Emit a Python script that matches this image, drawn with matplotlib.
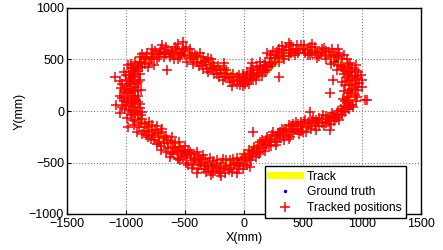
import numpy as np
import matplotlib.pyplot as plt

plt.rcParams['font.family'] = ['Liberation Sans', 'DejaVu Sans']

# track (closed heart loop)
track_x = [-950, -880, -780, -640, -500, -380, -260, -140, -40, 40, 120, 220, 320, 440, 560, 680, 800, 880, 910, 900, 860,
           780, 680, 560, 450, 350, 250, 150, 60, 0, -100, -200, -320, -400, -480, -600, -680, -760, -880, -930, -955, -965, -960, -950]
track_y = [380, 480, 540, 560, 550, 510, 450, 370, 300, 290, 350, 430, 520, 580, 590, 560, 480, 360, 220, 120, 30,
           -40, -90, -130, -160, -200, -250, -320, -390, -450, -500, -530, -510, -470, -420, -330, -270, -210, -100, -30, 60, 150, 250, 380]

# ground truth samples along the track
truth_x = [-930, -910, -890, -960, -955, -940, -900, -700, -520, -330, -150, 0, 120, 230, 330, 380,
           500, 650, 780, 880, 905, 880, 760, 720, 610, 480, 300, 150, -50, -280, -520, -760]
truth_y = [410, 440, 470, 300, 200, 80, -70, 560, 550, 500, 370, 290, 350, 440, 530, 560,
           590, 565, 490, 350, 200, 60, -50, -70, -110, -155, -205, -320, -470, -515, -400, -210]

# tracked positions
tracked = [
    # left side
    (-940, 390), (-975, 350), (-920, 330), (-1000, 300), (-955, 280), (-910, 260), (-990, 240), (-960, 210),
    (-925, 190), (-1010, 180), (-945, 150), (-980, 120), (-915, 110), (-960, 80), (-1000, 60), (-935, 40),
    (-970, 10), (-905, 0), (-1090, 330), (-1080, 60), (-1050, -20),
    (-900, 420), (-960, 420), (-1020, 380), (-880, 360), (-940, 340), (-1030, 260), (-880, 300), (-920, 230),
    (-1040, 220), (-870, 200), (-990, 170), (-900, 150), (-1030, 130), (-940, 100), (-880, 70), (-1010, 20),
    (-950, -10), (-880, 30), (-1020, 100), (-960, 380), (-930, 270), (-980, 450),
    (-1000, 350), (-930, 360), (-965, 320), (-1050, 290), (-900, 280), (-970, 260), (-1020, 200), (-940, 190),
    (-900, 200), (-965, 170), (-1050, 150), (-920, 130), (-990, 90), (-900, 90), (-960, 50), (-1030, 40),
    (-920, -20), (-990, -70), (-860, -10),
    # lower left
    (-960, -40), (-900, -30), (-920, -100), (-860, -80), (-890, -160), (-840, -130), (-800, -200), (-780, -140),
    (-830, -230), (-750, -180), (-720, -250), (-700, -200), (-760, -280), (-660, -240), (-680, -310), (-620, -290),
    (-640, -360), (-580, -310), (-600, -400), (-540, -350), (-560, -420), (-500, -390), (-520, -450), (-470, -380),
    (-450, -460), (-420, -420), (-430, -520), (-380, -450), (-370, -500), (-340, -560), (-330, -470), (-300, -530),
    (-270, -580), (-260, -490), (-230, -550), (-200, -600), (-190, -500), (-170, -560), (-980, -160), (-560, -470),
    (-940, -90), (-870, -40), (-850, -190), (-910, -200), (-800, -110), (-810, -250), (-740, -150), (-770, -230),
    (-720, -300), (-690, -170), (-650, -280), (-700, -340), (-610, -250), (-660, -400), (-580, -360), (-550, -300),
    (-620, -420), (-530, -400), (-500, -340), (-560, -460), (-480, -440), (-460, -400), (-490, -500), (-410, -470),
    (-400, -400), (-440, -550), (-360, -520), (-350, -430), (-390, -560), (-310, -500), (-290, -460), (-320, -590),
    (-250, -540), (-230, -480), (-280, -620), (-210, -580), (-180, -470), (-160, -600), (-150, -530), (-120, -480),
    (-870, -120), (-930, -140), (-820, -160), (-860, -220), (-780, -180), (-790, -270), (-730, -210), (-740, -320),
    (-680, -260), (-700, -380), (-640, -310), (-600, -350), (-630, -450), (-570, -390), (-520, -380), (-540, -480),
    (-500, -430), (-450, -420), (-470, -520), (-420, -480), (-380, -490), (-400, -600), (-360, -470), (-300, -560),
    (-330, -530), (-260, -600), (-240, -520), (-200, -550), (-190, -630), (-130, -570), (-110, -520),
    # bottom to lower right
    (-150, -480), (-120, -550), (-80, -520), (-60, -460), (-30, -500), (0, -420), (20, -480), (40, -380),
    (70, -440), (90, -350), (110, -400), (140, -300), (160, -360), (190, -280), (210, -330), (240, -230),
    (260, -290), (290, -210), (310, -260), (340, -180), (370, -230), (400, -150), (420, -200), (460, -130),
    (480, -190), (510, -110), (540, -160), (580, -100), (600, -150), (640, -70), (660, -120), (700, -50),
    (720, -100), (750, -20), (780, -70), (800, 0), (830, -40), (850, 50), (-40, -560), (80, -200),
    (560, -10), (730, -180), (1040, 110),
    (-100, -590), (-90, -470), (-50, -530), (-10, -560), (10, -450), (30, -520), (50, -420), (60, -480),
    (80, -390), (100, -450), (120, -340), (130, -420), (170, -310), (180, -390), (220, -270), (230, -340),
    (250, -200), (280, -300), (300, -230), (320, -170), (340, -280), (360, -200), (380, -140), (390, -250),
    (430, -170), (440, -110), (470, -220), (490, -150), (520, -90), (530, -200), (560, -130), (590, -70),
    (610, -180), (630, -110), (670, -40), (680, -150), (710, -80), (740, -130), (760, -50), (790, -30),
    (810, -90), (820, 20), (860, -10), (870, 40),
    (-70, -500), (-60, -600), (-20, -470), (0, -520), (40, -460), (50, -540), (70, -400), (110, -370),
    (140, -400), (150, -280), (190, -330), (200, -250), (230, -300), (270, -240), (270, -330), (310, -200),
    (330, -240), (360, -170), (380, -270), (410, -180), (420, -130), (450, -180), (480, -110), (500, -200),
    (540, -120), (570, -170), (610, -90), (640, -150), (660, -80), (700, -120), (730, -60), (760, -100),
    (800, -60), (840, 0), (890, 20),
    # right side
    (880, 80), (920, 60), (870, 140), (940, 160), (890, 200), (950, 230), (860, 250), (920, 290),
    (960, 320), (870, 330), (900, 380), (940, 400), (840, 410), (880, 450), (800, 450), (830, 500),
    (760, 480), (780, 540), (700, 500), (720, 570), (640, 530), (660, 600), (580, 560), (600, 620),
    (540, 590), (1000, 300), (1025, 110), (730, 175), (755, 300), (925, 40),
    (890, 110), (950, 100), (840, 120), (910, 170), (850, 190), (970, 200), (900, 250), (830, 280),
    (980, 270), (890, 310), (940, 340), (850, 360), (920, 420), (860, 390), (970, 380), (820, 440),
    (900, 470), (850, 540), (790, 400), (760, 540), (740, 460), (810, 560), (690, 540), (680, 610),
    (620, 560), (620, 510), (560, 620), (560, 540), (520, 560), (510, 640),
    (900, 60), (860, 100), (960, 140), (880, 170), (920, 210), (1000, 230), (940, 260), (870, 290),
    (920, 340), (990, 350), (880, 360), (910, 390), (850, 430), (950, 450), (870, 500), (800, 520),
    (800, 600), (740, 520), (750, 600), (700, 580), (650, 560), (600, 580), (580, 650), (540, 540),
    # right lobe to dip
    (480, 640), (460, 560), (420, 600), (380, 530), (360, 620), (320, 560), (300, 480), (270, 540),
    (240, 460), (220, 510), (200, 400), (170, 450), (150, 340), (120, 400), (100, 300), (70, 360),
    (40, 260), (20, 320), (-10, 240), (-30, 300), (-60, 330), (-60, 260), (450, 640), (70, 470),
    (300, 330),
    (500, 600), (440, 580), (400, 640), (400, 560), (340, 590), (340, 500), (300, 600), (290, 520),
    (260, 480), (250, 580), (210, 440), (230, 540), (180, 480), (180, 380), (140, 430), (130, 360),
    (110, 440), (90, 340), (60, 300), (80, 400), (30, 290), (50, 350), (0, 330), (10, 260),
    (-20, 280), (-40, 350), (-80, 290), (-90, 360), (-100, 240),
    (470, 600), (430, 540), (380, 590), (380, 660), (320, 630), (330, 530), (280, 570), (260, 510),
    (220, 470), (200, 560), (160, 410), (190, 430), (140, 480), (110, 370), (80, 320), (60, 420),
    (30, 380), (0, 280), (-30, 250), (-10, 360),
    # dip to left lobe
    (-120, 280), (-140, 360), (-170, 420), (-210, 330), (-240, 400), (-260, 470), (-300, 380), (-320, 450),
    (-350, 520), (-380, 440), (-420, 500), (-440, 560), (-480, 480), (-500, 580), (-540, 520), (-570, 600),
    (-600, 540), (-640, 590), (-680, 520), (-710, 570), (-740, 500), (-770, 550), (-800, 470), (-830, 520),
    (-860, 430), (-880, 470), (-900, 390), (-650, 400), (-520, 670),
    (-130, 320), (-150, 400), (-180, 300), (-190, 370), (-220, 440), (-230, 360), (-270, 420), (-280, 500),
    (-310, 410), (-330, 490), (-360, 470), (-370, 560), (-400, 480), (-410, 540), (-450, 510), (-460, 600),
    (-500, 540), (-520, 600), (-550, 560), (-580, 620), (-590, 500), (-620, 560), (-660, 620), (-660, 550),
    (-700, 600), (-720, 520), (-750, 580), (-760, 450), (-790, 500), (-820, 560), (-840, 460), (-850, 500),
    (-880, 520), (-900, 440), (-920, 480), (-940, 420),
    (-60, 300), (-110, 330), (-160, 330), (-170, 470), (-200, 400), (-250, 360), (-250, 440), (-290, 420),
    (-300, 510), (-340, 480), (-350, 410), (-400, 530), (-430, 460), (-460, 530), (-490, 620), (-530, 560),
    (-560, 500), (-560, 650), (-610, 580), (-630, 520), (-680, 570), (-690, 640), (-730, 550), (-780, 520),
    (-780, 600), (-810, 430), (-870, 480), (-860, 550), (-910, 420), (-960, 460),
]
tracked_x = [p[0] for p in tracked]
tracked_y = [p[1] for p in tracked]

fig = plt.figure(figsize=(4.43, 2.5), dpi=100)
ax = fig.add_axes([0.151, 0.144, 0.799, 0.824])

ax.plot(track_x, track_y, color='yellow', lw=5, label='Track', zorder=2)
ax.plot(truth_x, truth_y, '.', color='blue', ms=3, label='Ground truth', zorder=3)
ax.plot(tracked_x, tracked_y, '+', color='red', ms=7, mew=1.1, label='Tracked positions', zorder=4)

ax.set_xlim(-1500, 1500)
ax.set_ylim(-1000, 1000)
ax.set_xticks(np.arange(-1500, 1501, 500))
ax.set_yticks(np.arange(-1000, 1001, 500))
ax.grid(True, linestyle=':', color='gray', lw=0.8)
ax.tick_params(direction='in', labelsize=9, length=3, pad=2)
ax.tick_params(axis='x', pad=3)
for s in ax.spines.values():
    s.set_linewidth(1)
ax.set_xlabel('X(mm)', fontsize=9, labelpad=1)
ax.set_ylabel('Y(mm)', fontsize=9, labelpad=2)

leg = ax.legend(loc='lower right', bbox_to_anchor=(0.958, -0.02), fontsize=8.7, fancybox=False,
                edgecolor='black', framealpha=1, handlelength=2.5, handletextpad=0.6,
                borderpad=0.35, labelspacing=0.3, borderaxespad=0)
leg.get_frame().set_linewidth(1)
leg.set_zorder(10)

fig.savefig('out.png', dpi=100)
